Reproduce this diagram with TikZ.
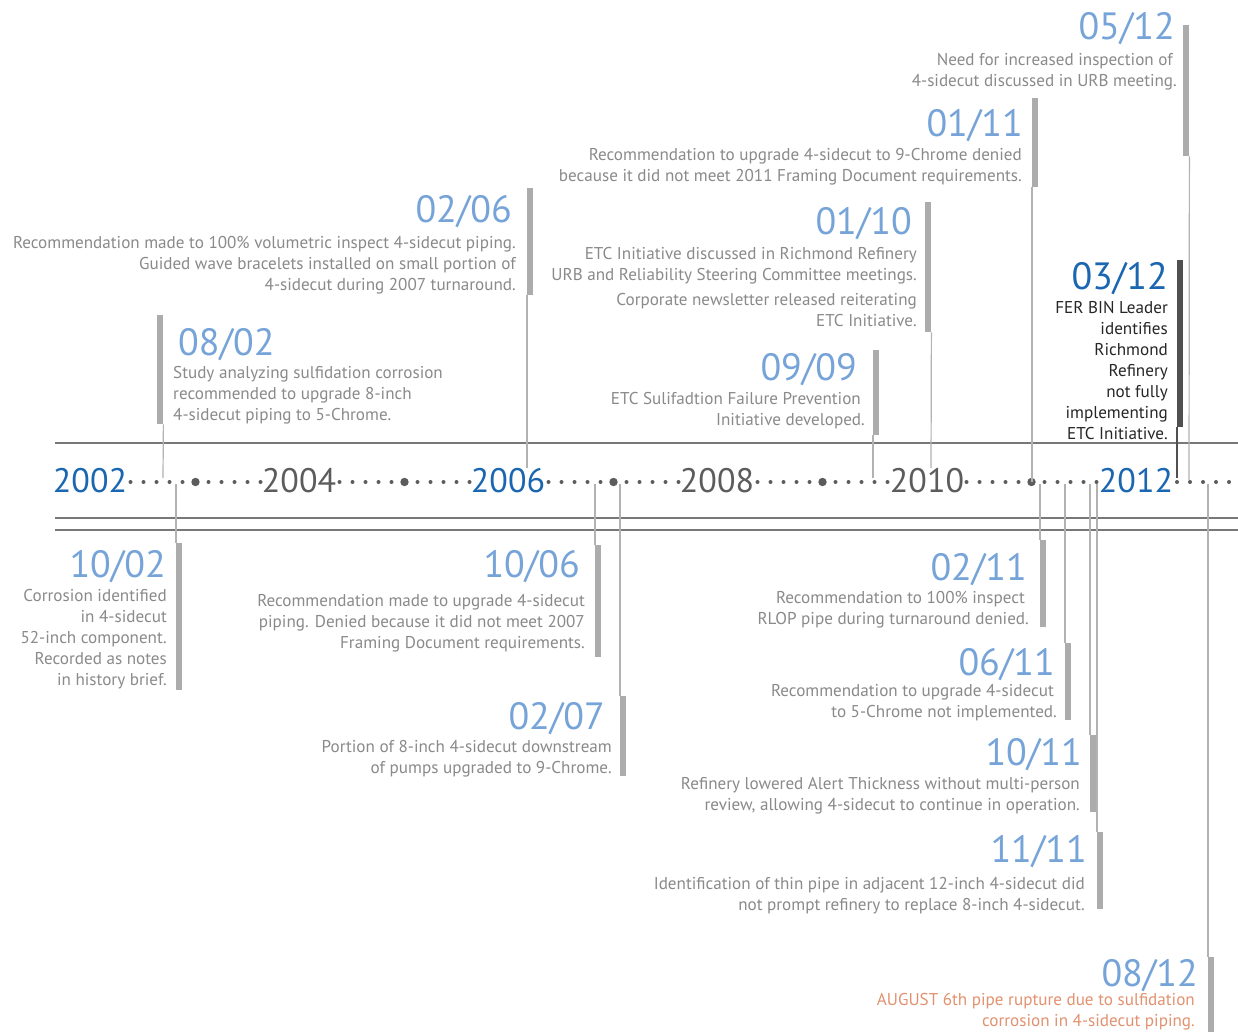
\documentclass[tikz,border=0pt]{standalone}
\usepackage{fontspec}
\setmainfont{PT Sans}
\definecolor{dateblue}{RGB}{118,164,216}
\definecolor{darkblue}{RGB}{26,102,176}
\definecolor{bodygray}{RGB}{138,138,138}
\definecolor{yeargray}{RGB}{92,92,92}
\definecolor{bargray}{RGB}{172,172,172}
\definecolor{linegray}{RGB}{178,178,178}
\definecolor{axisgray}{RGB}{120,120,120}
\definecolor{dotgray}{RGB}{92,92,92}
\definecolor{darkbar}{RGB}{80,80,80}
\definecolor{rupture}{RGB}{226,146,112}
\begin{document}
\begin{tikzpicture}[x=1pt,y=-1pt,
  datel/.style={font=\fontsize{38}{40}\selectfont\addfontfeatures{Numbers=Proportional}, text=dateblue, inner sep=0pt, anchor=base east},
  body/.style={font=\fontsize{17.1}{21}\selectfont, text=bodygray, inner sep=0pt, align=right, anchor=base east},
  yearl/.style={font=\fontsize{34}{36}\selectfont, inner sep=0pt, anchor=base},
  bar/.style={fill=bargray, draw=none, inner sep=0pt, minimum width=6pt, anchor=north west},
  link/.style={draw=linegray, line width=1.2pt},
  axisline/.style={draw=axisgray, line width=1.4pt}
]
\useasboundingbox (0,0) rectangle (1238,1032);
\fill[white] (0,0) rectangle (1238,1032);

% axis lines
\coordinate (tl) at (55,443);
\coordinate (tr) at (1238,443);
\coordinate (bl1) at (55,518);
\coordinate (br1) at (1238,518);
\coordinate (bl2) at (55,530);
\coordinate (br2) at (1238,530);
\draw[axisline] (tl) -- (tr);
\draw[axisline, line width=1.1pt] (bl1) -- (br1);
\draw[axisline, line width=1.1pt] (bl2) -- (br2);

% dots
\foreach \c in {195.5,404.5,613.5,822.5,1031.5}{
  \fill[dotgray] (\c,482) circle (4.2pt);
  \foreach \k in {1,...,5}{
    \fill[dotgray] (\c-13*\k,482) circle (2pt);
    \fill[dotgray] (\c+13*\k,482) circle (2pt);
  }
}
\foreach \k in {1,...,5}{\fill[dotgray] (1242-13*\k,482) circle (2pt);}

% years
\node[yearl, text=darkblue] (y2002) at (90,492) {2002};
\node[yearl, text=yeargray] (y2004) at (299,492) {2004};
\node[yearl, text=darkblue] (y2006) at (508,492) {2006};
\node[yearl, text=yeargray] (y2008) at (717,492) {2008};
\node[yearl, text=yeargray] (y2010) at (927,492) {2010};
\node[yearl, text=darkblue] (y2012) at (1136,492) {2012};

% axis anchor coordinates
\coordinate (a0802) at (163,478);
\coordinate (a0206) at (527,468);
\coordinate (a0909) at (873,478);
\coordinate (a0110) at (931,468);
\coordinate (a0111) at (1032,482);
\coordinate (a0512) at (1189,480);
\coordinate (a0312) at (1177,478);
\coordinate (a1002) at (176,484);
\coordinate (a1006) at (595,484);
\coordinate (a0207) at (620,484);
\coordinate (a0211) at (1040,484);
\coordinate (a0611) at (1065,484);
\coordinate (a1011) at (1090,484);
\coordinate (a1111) at (1097,484);
\coordinate (a0812) at (1208,484);

% bars
\node[bar, minimum height=109pt] (b0802) at (157,315) {};
\node[bar, minimum height=107pt] (b0206) at (527,188) {};
\node[bar, minimum height=85pt]  (b0909) at (873,350) {};
\node[bar, minimum height=130pt] (b0110) at (925,202) {};
\node[bar, minimum height=89pt]  (b0111) at (1032,98) {};
\node[bar, minimum height=131pt] (b0512) at (1183,25) {};
\node[bar, fill=darkbar, minimum height=167pt] (b0312) at (1177,260) {};
\node[bar, minimum height=147pt] (b1002) at (176,543) {};
\node[bar, minimum height=112pt] (b1006) at (595,545) {};
\node[bar, minimum height=80pt]  (b0207) at (620,696) {};
\node[bar, minimum height=87pt]  (b0211) at (1040,540) {};
\node[bar, minimum height=77pt]  (b0611) at (1065,643) {};
\node[bar, minimum height=77pt]  (b1011) at (1090,735) {};
\node[bar, minimum height=77pt]  (b1111) at (1097,832) {};
\node[bar, minimum height=80pt]  (b0812) at (1208,957) {};

% connectors
\draw[link] (b0802.south east) -- (a0802);
\draw[link] (b0206.south west) -- (a0206);
\draw[link] (b0909.south west) -- (a0909);
\draw[link] (b0110.south east) -- (a0110);
\draw[link] (b0111.south west) -- (a0111);
\draw[link] (b0512.south east) -- (a0512);
\draw[link, draw=darkbar] (b0312.south west) -- (a0312);
\draw[link] (a1002) -- (b1002.north west);
\draw[link] (a1006) -- (b1006.north west);
\draw[link] (a0207) -- (b0207.north west);
\draw[link] (a0211) -- (b0211.north west);
\draw[link] (a0611) -- (b0611.north west);
\draw[link] (a1011) -- (b1011.north west);
\draw[link] (a1111) -- (b1111.north west);
\draw[link] (a0812) -- (b0812.north west);

% events above (body nodes anchored at the baseline of their last line)
\node[datel, anchor=base west] (d0802) at (178,355) {08/02};
\node[body, align=left, anchor=base west] (t0802) at (173,420) {Study analyzing sulfidation corrosion\\recommended to upgrade 8-inch\\4-sidecut piping to 5-Chrome.};

\node[datel] (d0206) at (512,223) {02/06};
\node[body] (t0206) at (516,290) {Recommendation made to 100\% volumetric inspect 4-sidecut piping.\\Guided wave bracelets installed on small portion of\\4-sidecut during 2007 turnaround.};

\node[datel] (d0909) at (857,380) {09/09};
\node[body] (t0909) at (865,425) {ETC Sulifadtion Failure Prevention\hspace*{4pt}\\Initiative developed.};

\node[datel] (d0110) at (912,235) {01/10};
\node[body] (t0110) at (917,326) {ETC Initiative discussed in Richmond Refinery\\URB and Reliability Steering Committee meetings.\\[4pt]Corporate newsletter released reiterating\hspace*{4pt}\\ETC Initiative.};

\node[datel] (d0111) at (1023,137) {01/11};
\node[body] (t0111) at (1022,182) {Recommendation to upgrade 4-sidecut to 9-Chrome denied\\because it did not meet 2011 Framing Document requirements.};

\node[datel] (d0512) at (1175,40) {05/12};
\node[body] (t0512) at (1177,87) {Need for increased inspection of\hspace*{4pt}\\4-sidecut discussed in URB meeting.};

\node[datel, text=darkblue] (d0312) at (1168,289) {03/12};
\node[body, text=black!85] (t0312) at (1168,439) {FER BIN Leader\\identifies\\Richmond\\Refinery\\not fully\\implementing\hspace*{4pt}\\ETC Initiative.};

% events below
\node[datel] (d1002) at (166,577) {10/02};
\node[body] (t1002) at (167,685) {Corrosion identified\\in 4-sidecut\hspace*{4pt}\\52-inch component.\\Recorded as notes\hspace*{4pt}\\in history brief.};

\node[datel] (d1006) at (580,577) {10/06};
\node[body] (t1006) at (585,648) {Recommendation made to upgrade 4-sidecut\\piping. Denied because it did not meet 2007\hspace*{4pt}\\Framing Document requirements.};

\node[datel] (d0207) at (605,729) {02/07};
\node[body] (t0207) at (612,773) {Portion of 8-inch 4-sidecut downstream\\of pumps upgraded to 9-Chrome.};

\node[datel] (d0211) at (1027,580) {02/11};
\node[body] (t0211) at (1029,624) {Recommendation to 100\% inspect\hspace*{4pt}\\RLOP pipe during turnaround denied.};

\node[datel] (d0611) at (1055,675) {06/11};
\node[body] (t0611) at (1057,717) {Recommendation to upgrade 4-sidecut\hspace*{3pt}\\to 5-Chrome not implemented.};

\node[datel] (d1011) at (1082,765) {10/11};
\node[body] (t1011) at (1080,810) {Refinery lowered Alert Thickness without multi-person\\review, allowing 4-sidecut to continue in operation.};

\node[datel] (d1111) at (1087,862) {11/11};
\node[body] (t1111) at (1085,910) {Identification of thin pipe in adjacent 12-inch 4-sidecut did\\not prompt refinery to replace 8-inch 4-sidecut.};

\node[datel] (d0812) at (1198,986) {08/12};
\node[body, text=rupture] (t0812) at (1195,1026) {AUGUST 6th pipe rupture due to sulfidation\\corrosion in 4-sidecut piping.};
\end{tikzpicture}
\end{document}
